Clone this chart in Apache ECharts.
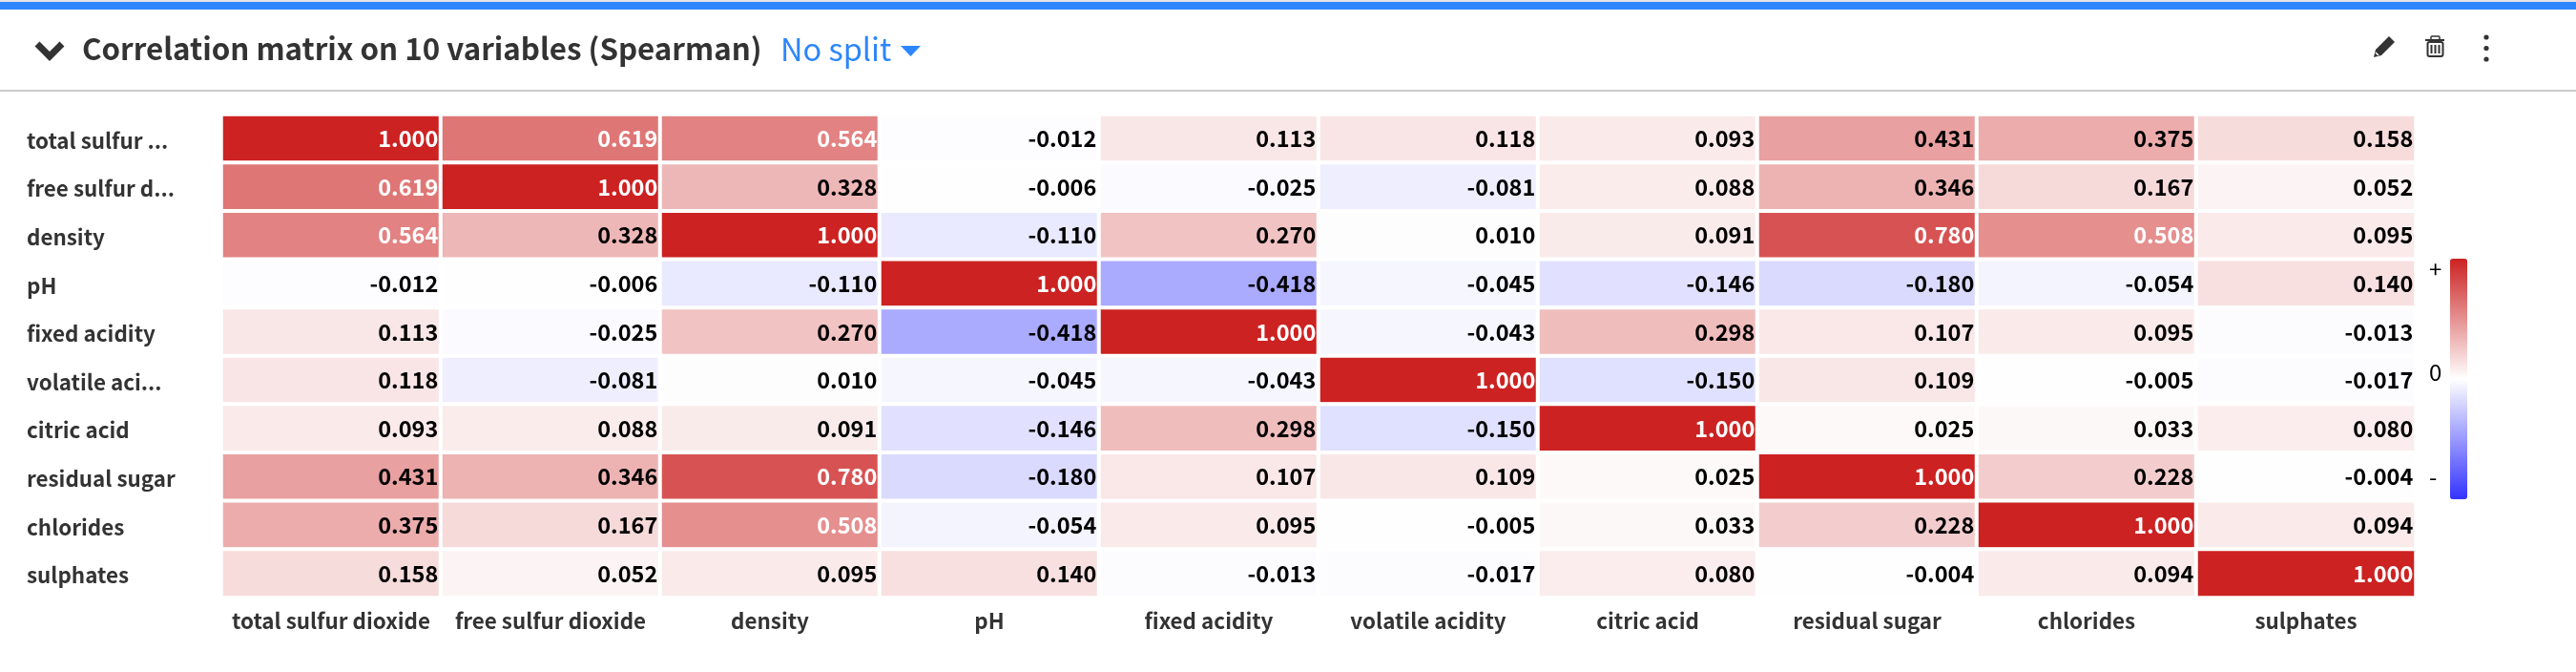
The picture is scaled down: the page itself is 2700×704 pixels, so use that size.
<!DOCTYPE html>
<html>
<head>
<meta charset="utf-8">
<title>Correlation matrix</title>
<style>
  html, body { margin: 0; padding: 0; background: #fff; }
  #chart { width: 2700px; height: 704px; }
</style>
<script src="https://cdn.jsdelivr.net/npm/echarts@6/dist/echarts.min.js"></script>
</head>
<body>
<div id="chart"></div>
<script>
const xLabels = ['total sulfur dioxide', 'free sulfur dioxide', 'density', 'pH', 'fixed acidity',
  'volatile acidity', 'citric acid', 'residual sugar', 'chlorides', 'sulphates'];
const yLabels = ['total sulfur ...', 'free sulfur d...', 'density', 'pH', 'fixed acidity',
  'volatile aci...', 'citric acid', 'residual sugar', 'chlorides', 'sulphates'];

const totalSulfur = [1.000, 0.619, 0.564, -0.012, 0.113, 0.118, 0.093, 0.431, 0.375, 0.158];
const freeSulfur = [0.619, 1.000, 0.328, -0.006, -0.025, -0.081, 0.088, 0.346, 0.167, 0.052];
const density = [0.564, 0.328, 1.000, -0.110, 0.270, 0.010, 0.091, 0.780, 0.508, 0.095];
const pH = [-0.012, -0.006, -0.110, 1.000, -0.418, -0.045, -0.146, -0.180, -0.054, 0.140];
const fixedAcidity = [0.113, -0.025, 0.270, -0.418, 1.000, -0.043, 0.298, 0.107, 0.095, -0.013];
const volatileAcidity = [0.118, -0.081, 0.010, -0.045, -0.043, 1.000, -0.150, 0.109, -0.005, -0.017];
const citricAcid = [0.093, 0.088, 0.091, -0.146, 0.298, -0.150, 1.000, 0.025, 0.033, 0.080];
const residualSugar = [0.431, 0.346, 0.780, -0.180, 0.107, 0.109, 0.025, 1.000, 0.228, -0.004];
const chlorides = [0.375, 0.167, 0.508, -0.054, 0.095, -0.005, 0.033, 0.228, 1.000, 0.094];
const sulphates = [0.158, 0.052, 0.095, 0.140, -0.013, -0.017, 0.080, -0.004, 0.094, 1.000];

const rows = [totalSulfur, freeSulfur, density, pH, fixedAcidity, volatileAcidity,
  citricAcid, residualSugar, chlorides, sulphates];

const FONT = '"Noto Sans CJK JP", "Open Sans", sans-serif';
const AXIS_TEXT = { fontFamily: FONT, fontSize: 22.4, fontWeight: 700, color: '#333' };

// Light text only on the saturated cells
const cells = [];
rows.forEach((row, y) => {
  row.forEach((v, x) => {
    cells.push({ value: [x, y, v], label: { color: v >= 0.5 ? '#fff' : '#000' } });
  });
});

const chart = echarts.init(document.getElementById('chart'), null, { renderer: 'canvas' });

chart.setOption({
  animation: false,
  backgroundColor: '#fff',
  title: {
    text: 'Correlation matrix on 10 variables (Spearman)',
    left: 86,
    top: 35,
    padding: 0,
    textStyle: { fontFamily: FONT, fontSize: 31.3, fontWeight: 700, color: '#333' }
  },
  grid: { left: 232, top: 120, width: 2300, height: 506 },
  xAxis: {
    type: 'category',
    data: xLabels,
    position: 'bottom',
    axisLine: { show: false },
    axisTick: { show: false },
    splitLine: { show: false },
    axisLabel: { interval: 0, margin: 13, ...AXIS_TEXT }
  },
  yAxis: {
    type: 'category',
    data: yLabels,
    inverse: true,
    axisLine: { show: false },
    axisTick: { show: false },
    splitLine: { show: false },
    axisLabel: {
      interval: 0,
      align: 'left',
      margin: 204,
      ...AXIS_TEXT,
      formatter: name => `{a|${name}}`,
      rich: { a: { ...AXIS_TEXT, padding: [4, 0, 0, 0] } }
    }
  },
  visualMap: {
    type: 'continuous',
    min: -1,
    max: 1,
    calculable: false,
    hoverLink: false,
    realtime: false,
    text: null,
    orient: 'vertical',
    left: 2568,
    top: 271,
    padding: 0,
    itemWidth: 18,
    itemHeight: 252,
    inRange: { color: ['#3333ff', '#ffffff', '#cc2222'] }
  },
  series: [{
    type: 'heatmap',
    data: cells,
    silent: true,
    itemStyle: { borderColor: '#fff', borderWidth: 4 },
    label: {
      show: true,
      position: 'insideRight',
      distance: 5,
      fontFamily: FONT,
      fontSize: 23.5,
      fontWeight: 700,
      formatter: p => p.value[2].toFixed(3)
    }
  }],
  graphic: [
    // page chrome: top accent, header rule
    { type: 'rect', silent: true, shape: { x: 0, y: 0, width: 2700, height: 2 }, style: { fill: '#e2e4e6' } },
    { type: 'rect', silent: true, shape: { x: 0, y: 2, width: 2700, height: 8 }, style: { fill: '#2d86fb' } },
    { type: 'rect', silent: true, shape: { x: 0, y: 94, width: 2700, height: 2 }, style: { fill: '#cccccc' } },
    // collapse chevron
    { type: 'polyline', silent: true, shape: { points: [[39, 46], [52, 59], [65, 46]] },
      style: { stroke: '#333', lineWidth: 7, fill: null } },
    { type: 'text', silent: true, x: 818, y: 35,
      style: { text: 'No split', fontFamily: FONT, fontSize: 32.5, fontWeight: 400, fill: '#2d86fb' } },
    { type: 'polygon', silent: true, shape: { points: [[944, 48], [965, 48], [954.5, 59]] }, style: { fill: '#2d86fb' } },
    // pencil, with the small light notch near the tip
    { type: 'polygon', silent: true, shape: { points: [[2488, 60], [2490, 52], [2504, 38], [2510, 44], [2496, 58]] }, style: { fill: '#333' } },
    { type: 'line', silent: true, shape: { x1: 2490, y1: 55, x2: 2493, y2: 58 }, style: { stroke: '#fff', lineWidth: 1.5 } },
    // trash can
    { type: 'rect', silent: true, shape: { x: 2544.5, y: 44, width: 16, height: 15, r: 2 }, style: { stroke: '#333', lineWidth: 2, fill: null } },
    { type: 'line', silent: true, shape: { x1: 2542, y1: 42, x2: 2562, y2: 42 }, style: { stroke: '#333', lineWidth: 2 } },
    { type: 'rect', silent: true, shape: { x: 2548, y: 38, width: 9, height: 4, r: 1 }, style: { stroke: '#333', lineWidth: 1.5, fill: null } },
    { type: 'line', silent: true, shape: { x1: 2548.5, y1: 47, x2: 2548.5, y2: 56 }, style: { stroke: '#333', lineWidth: 2 } },
    { type: 'line', silent: true, shape: { x1: 2552.5, y1: 47, x2: 2552.5, y2: 56 }, style: { stroke: '#333', lineWidth: 2 } },
    { type: 'line', silent: true, shape: { x1: 2556.5, y1: 47, x2: 2556.5, y2: 56 }, style: { stroke: '#333', lineWidth: 2 } },
    // kebab menu
    { type: 'circle', silent: true, shape: { cx: 2606, cy: 39, r: 2.6 }, style: { fill: '#333' } },
    { type: 'circle', silent: true, shape: { cx: 2606, cy: 50.5, r: 2.6 }, style: { fill: '#333' } },
    { type: 'circle', silent: true, shape: { cx: 2606, cy: 62, r: 2.6 }, style: { fill: '#333' } },
    // colour scale end marks
    { type: 'text', silent: true, x: 2546, y: 282,
      style: { text: '+', fontFamily: FONT, fontSize: 24, fill: '#000', verticalAlign: 'middle' } },
    { type: 'text', silent: true, x: 2546, y: 390,
      style: { text: '0', fontFamily: FONT, fontSize: 24, fill: '#000', verticalAlign: 'middle' } },
    { type: 'text', silent: true, x: 2546, y: 500,
      style: { text: '-', fontFamily: FONT, fontSize: 24, fill: '#000', verticalAlign: 'middle' } }
  ]
});
</script>
</body>
</html>
